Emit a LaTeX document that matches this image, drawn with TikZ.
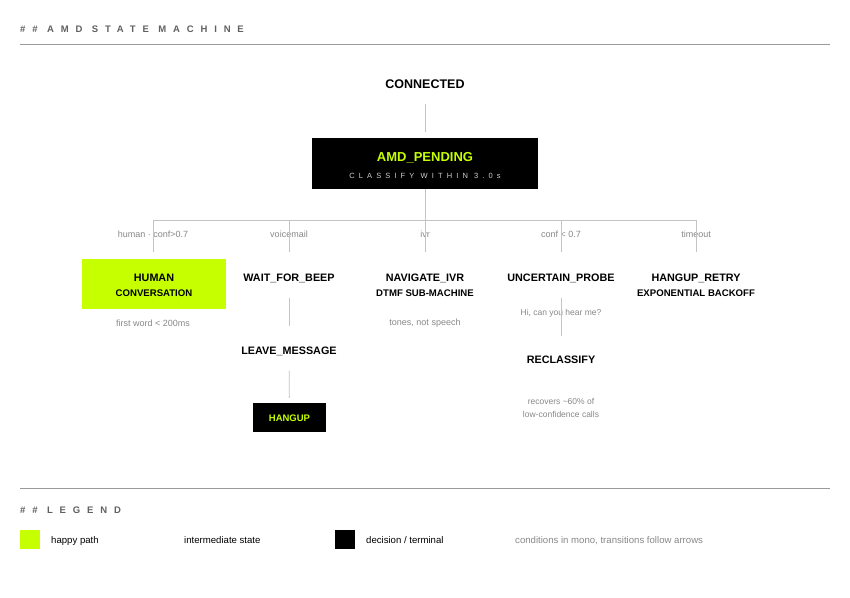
\documentclass[tikz,border=0pt]{standalone}
\usepackage{fontspec}
\setmainfont{Liberation Sans}
\newfontfamily\trackfont[LetterSpace=72]{Liberation Sans}
\newfontfamily\trackfontsmall[LetterSpace=55]{Liberation Sans}
\definecolor{lime}{HTML}{C6FF00}
\definecolor{headgray}{HTML}{606060}
\definecolor{rulegray}{HTML}{9A9A9A}
\definecolor{linegray}{HTML}{C4C4C4}
\definecolor{condgray}{HTML}{888888}
\definecolor{subgray}{HTML}{CFCFCF}
\tikzset{
  heading/.style={anchor=west, inner sep=0pt, text=headgray, font=\trackfont\bfseries\fontsize{9.5}{11}\selectfont},
  rulebar/.style={draw=rulegray, line width=0.9pt},
  conn/.style={draw=linegray, line width=0.8pt},
  statebig/.style={inner sep=0pt, font=\bfseries\fontsize{12.5}{14}\selectfont},
  statelabel/.style={inner sep=0pt, font=\bfseries\fontsize{10.8}{13}\selectfont},
  sublabel/.style={inner sep=0pt, font=\bfseries\fontsize{9.6}{11}\selectfont},
  cond/.style={inner sep=0pt, text=condgray, font=\fontsize{9}{11}\selectfont},
  note/.style={inner sep=0pt, text=condgray, font=\fontsize{8.5}{10}\selectfont},
  blackbox/.style={fill=black, draw=none, inner sep=0pt},
  limebox/.style={fill=lime, draw=none, inner sep=0pt},
  legendtext/.style={anchor=base west, inner sep=0pt, font=\fontsize{9.6}{11}\selectfont},
}
\begin{document}
\begin{tikzpicture}[x=1pt,y=-1pt]
\useasboundingbox[fill=white] (0,0) rectangle (850,597);

% header
\node[heading] (title) at (20,29) {\#\# AMD STATE MACHINE};
\coordinate (r1a) at (20,44);
\coordinate (r1b) at (830,44);
\draw[rulebar] (r1a) -- (r1b);

% root
\node[statebig] (connected) at (425,84) {CONNECTED};
\node[blackbox, minimum width=226pt, minimum height=51pt] (pending) at (425,163.5) {};
\node[inner sep=0pt, text=lime, font=\bfseries\fontsize{13}{15}\selectfont] (pendingtitle) at (425,158) {AMD\_PENDING};
\node[inner sep=0pt, text=subgray, font=\trackfontsmall\fontsize{7.5}{9}\selectfont] (pendingsub) at (425,176) {CLASSIFY WITHIN 3.0s};
\draw[conn, shorten <=15pt, shorten >=6pt] (connected) -- (pending);

% bus
\coordinate (bus) at (425,220);
\coordinate (b1) at (153,220);
\coordinate (b2) at (289,220);
\coordinate (b4) at (561,220);
\coordinate (b5) at (696,220);
\coordinate (t1) at (153,252);
\coordinate (t2) at (289,252);
\coordinate (t3) at (425,252);
\coordinate (t4) at (561,252);
\coordinate (t5) at (696,252);

% condition labels
\node[cond] (c1) at (153,234) {human · conf>0.7};
\node[cond] (c2) at (289,234) {voicemail};
\node[cond] (c3) at (425,234) {ivr};
\node[cond] (c4) at (561,234) {conf < 0.7};
\node[cond] (c5) at (696,234) {timeout};

\draw[conn] (pending.south) -- (bus);
\draw[conn] (b1) -- (b5);
\draw[conn] (b1) -- (t1);
\draw[conn] (b2) -- (t2);
\draw[conn] (bus) -- (t3);
\draw[conn] (b4) -- (t4);
\draw[conn] (b5) -- (t5);

% human
\node[limebox, minimum width=144pt, minimum height=50pt] (human) at (154,284) {};
\node[statelabel] (humant) at (154,278) {HUMAN};
\node[sublabel] (humans) at (154,293) {CONVERSATION};
\node[cond] (humann) at (153,323) {first word < 200ms};

% voicemail branch
\node[statelabel] (wait) at (289,278) {WAIT\_FOR\_BEEP};
\node[statelabel] (leave) at (289,351) {LEAVE\_MESSAGE};
\node[blackbox, minimum width=73pt, minimum height=29pt] (hangup) at (289.5,417.5) {};
\node[inner sep=0pt, text=lime, font=\bfseries\fontsize{9.5}{11}\selectfont] (hanguptext) at (289.5,418) {HANGUP};
\draw[conn, shorten <=15pt, shorten >=20pt] (wait) -- (leave);
\draw[conn, shorten <=15pt, shorten >=5pt] (leave) -- (hangup);

% ivr
\node[statelabel] (ivr) at (425,278) {NAVIGATE\_IVR};
\node[sublabel] (ivrs) at (425,293) {DTMF SUB-MACHINE};
\node[cond] (ivrn) at (425,323) {tones, not speech};

% uncertain
\node[statelabel] (probe) at (561,278) {UNCERTAIN\_PROBE};
\node[statelabel] (reclass) at (561,359.5) {RECLASSIFY};
\node[note] (probeq) at (561,313) {Hi, can you hear me?};
\draw[conn, shorten <=15pt, shorten >=19pt] (probe) -- (reclass);
\node[note] (rec1) at (561,401.5) {recovers \textasciitilde60\% of};
\node[note] (rec2) at (561,414.5) {low-confidence calls};

% retry
\node[statelabel] (retry) at (696,278) {HANGUP\_RETRY};
\node[sublabel] (retrys) at (696,293) {EXPONENTIAL BACKOFF};

% legend
\coordinate (r2a) at (20,488);
\coordinate (r2b) at (830,488);
\draw[rulebar] (r2a) -- (r2b);
\node[heading] (legendtitle) at (20,510) {\#\# LEGEND};
\node[limebox, minimum width=20pt, minimum height=19pt] (sw1) at (30,539.5) {};
\node[legendtext] (l1) at (51,543.5) {happy path};
\node[legendtext] (l2) at (184,543.5) {intermediate state};
\node[blackbox, minimum width=20pt, minimum height=19pt] (sw3) at (345,539.5) {};
\node[legendtext] (l3) at (366,543.5) {decision / terminal};
\node[legendtext, text=condgray] (l4) at (515,543.5) {conditions in mono, transitions follow arrows};
\end{tikzpicture}
\end{document}
